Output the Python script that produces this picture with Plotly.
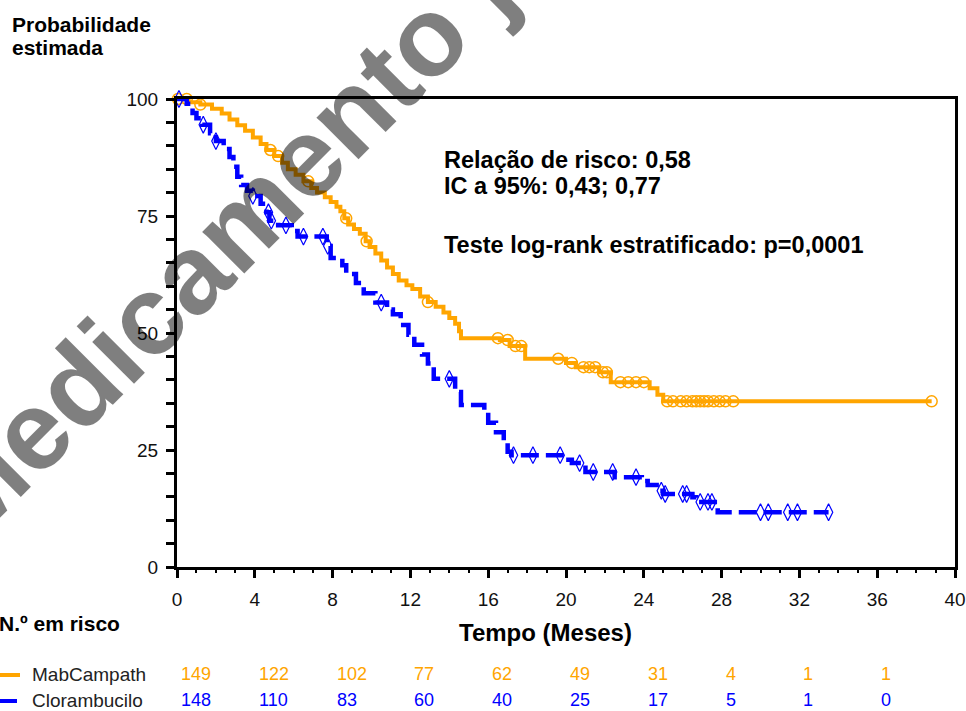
import plotly.graph_objects as go

# ---------------- data ----------------
mab_time = [0, 0.6, 1.2, 1.8, 2.3, 2.7, 3.1, 3.5, 3.9, 4.3, 4.6, 5.0, 5.4, 5.7, 6.1, 6.5, 6.9,
            7.2, 7.6, 7.9, 8.2, 8.4, 8.6, 8.8, 9.1, 9.4, 9.7, 9.9, 10.2, 10.5, 10.8, 11.1, 11.4,
            11.8, 12.1, 12.5, 12.9, 13.3, 13.7, 14.0, 14.3, 14.5, 14.6, 16.6, 17.1, 17.9, 20.0,
            20.5, 21.7, 22.3, 24.3, 24.7, 25.0, 38.8]
mab_surv = [100, 99.3, 98.8, 97.9, 96.9, 95.6, 94.4, 93.2, 91.8, 90.4, 89.1, 87.8, 86.4, 85.0,
            83.8, 82.4, 81.0, 80.0, 79.0, 78.0, 77.0, 76.0, 74.5, 73.2, 72.2, 71.2, 69.6, 68.4,
            67.0, 65.5, 64.0, 62.6, 61.2, 60.2, 59.4, 57.8, 56.6, 55.6, 54.4, 53.2, 52.0, 50.4,
            48.9, 48.5, 47.2, 44.5, 43.6, 42.7, 41.6, 39.5, 38.2, 36.8, 35.4, 35.4]

mab_cens_t = [0.05, 0.5, 1.2, 4.8, 5.2, 6.75, 8.7, 9.75, 12.9, 16.5, 17.0, 17.4, 17.7, 19.6,
              20.3, 20.9, 21.2, 21.5, 21.9, 22.1, 22.8, 23.2, 23.6, 24.0, 25.2, 25.5, 25.9,
              26.2, 26.5, 26.7, 26.9, 27.1, 27.3, 27.6, 27.9, 28.2, 28.6, 38.8]
mab_cens_s = [100, 100, 98.8, 89.1, 87.8, 82.4, 74.5, 69.6, 56.6, 48.9, 48.5, 47.2, 47.2, 44.5,
              43.6, 42.7, 42.7, 42.7, 41.6, 41.6, 39.5, 39.5, 39.5, 39.5, 35.4, 35.4, 35.4,
              35.4, 35.4, 35.4, 35.4, 35.4, 35.4, 35.4, 35.4, 35.4, 35.4, 35.4]

clb_time = [0, 0.5, 0.8, 1.0, 1.3, 1.7, 2.0, 2.4, 2.7, 2.9, 3.1, 3.3, 3.6, 3.9, 4.3, 4.6, 4.75,
            5.2, 5.9, 6.2, 7.7, 7.9, 8.5, 8.7, 9.2, 9.6, 10.2, 10.8, 11.1, 11.5, 11.9, 12.2,
            12.6, 12.9, 13.2, 14.3, 14.6, 15.8, 16.0, 16.4, 16.8, 17.0, 17.2, 19.9, 20.3, 21.0,
            22.5, 23.9, 24.2, 24.8, 25.0, 26.5, 26.7, 27.8, 33.5]
clb_surv = [100, 99.0, 97.0, 95.9, 94.5, 92.7, 91.0, 89.3, 87.6, 85.5, 83.4, 81.6, 80.4, 79.3,
            77.6, 75.8, 74.0, 73.0, 71.8, 70.6, 68.6, 66.0, 64.5, 62.6, 60.7, 58.5, 56.5, 55.0,
            54.0, 51.7, 49.6, 47.5, 45.4, 43.5, 40.2, 37.4, 34.6, 33.0, 30.8, 28.8, 26.8, 24.6,
            23.9, 22.9, 22.2, 20.3, 19.2, 18.4, 17.5, 16.3, 15.6, 14.9, 13.9, 11.7, 11.7]

clb_cens_t = [0.1, 1.35, 2.0, 3.9, 4.7, 4.85, 5.6, 6.5, 7.5, 7.75, 10.5, 14.0, 17.3, 18.3, 19.7,
              20.7, 21.4, 22.4, 23.6, 24.9, 25.1, 26.0, 26.2, 26.9, 27.3, 27.5, 30.0, 30.4,
              31.4, 31.9, 33.5]
clb_cens_s = [100, 94.5, 91.0, 79.3, 75.8, 74.0, 73.0, 70.6, 70.6, 68.6, 56.5, 40.2, 23.9, 23.9,
              23.9, 22.2, 20.3, 20.3, 19.2, 16.3, 15.6, 15.6, 15.6, 13.9, 13.9, 13.9, 11.7, 11.7,
              11.7, 11.7, 11.7]

risk_times = [0, 4, 8, 12, 16, 20, 24, 28, 32, 36]
mab_risk = [149, 122, 102, 77, 62, 49, 31, 4, 1, 1]
clb_risk = [148, 110, 83, 60, 40, 25, 17, 5, 1, 0]

x_ticks = [0, 4, 8, 12, 16, 20, 24, 28, 32, 36, 40]
y_ticks = [0, 25, 50, 75, 100]

ORANGE = "#FFA500"
BLUE = "#0000FF"
FONT = "Liberation Sans, Arial, sans-serif"

# ---------------- layout geometry ----------------
W, H = 966, 711
L, R, T, B = 177, 955, 99, 567


def px(x):
    return (x - L) / (R - L)


def py(y):
    return (B - y) / (B - T)


fig = go.Figure()

fig.add_trace(go.Scatter(x=mab_time, y=mab_surv, mode="lines", line_shape="hv",
                         line=dict(color=ORANGE, width=4), showlegend=False, cliponaxis=False))
fig.add_trace(go.Scatter(x=mab_cens_t, y=mab_cens_s, mode="markers",
                         marker=dict(symbol="circle-open", size=11, color=ORANGE,
                                     line=dict(width=1.5, color=ORANGE)),
                         showlegend=False, cliponaxis=False))
fig.add_trace(go.Scatter(x=clb_time, y=clb_surv, mode="lines", line_shape="hv",
                         line=dict(color=BLUE, width=4.5, dash="18px,7px"),
                         showlegend=False, cliponaxis=False))
fig.add_trace(go.Scatter(x=clb_cens_t, y=clb_cens_s, mode="markers",
                         marker=dict(symbol="diamond-tall-open", size=12, color=BLUE,
                                     line=dict(width=1.2, color=BLUE)),
                         showlegend=False, cliponaxis=False))

ann = []


def txt(text, x, y, size, bold=False, color="#000", xanchor="left", **kw):
    t = f"<b>{text}</b>" if bold else text
    ann.append(dict(text=t, x=px(x), y=py(y), xref="paper", yref="paper", showarrow=False,
                    xanchor=xanchor, yanchor="middle",
                    font=dict(family=FONT, size=size, color=color), **kw))


txt("Probabilidade", 10, 25, 21, bold=True)
txt("estimada", 10, 48, 21, bold=True)
txt("Relação de risco: 0,58", 442, 160, 23.5, bold=True)
txt("IC a 95%: 0,43; 0,77", 442, 186, 23.5, bold=True)
txt("Teste log-rank estratificado: p=0,0001", 442, 245, 23.5, bold=True)
txt("Tempo (Meses)", 545, 632, 24, bold=True, xanchor="center")
txt("N.º em risco", -3, 623, 21, bold=True)
txt("MabCampath", 30, 674, 19, color="#222")
txt("Clorambucilo", 30, 700, 19, color="#222")

for t, v in zip(risk_times, mab_risk):
    ann.append(dict(text=str(v), x=t, y=py(674), xref="x", yref="paper", showarrow=False,
                    xanchor="left", yanchor="middle", xshift=2,
                    font=dict(family=FONT, size=18, color=ORANGE)))
for t, v in zip(risk_times, clb_risk):
    ann.append(dict(text=str(v), x=t, y=py(700), xref="x", yref="paper", showarrow=False,
                    xanchor="left", yanchor="middle", xshift=2,
                    font=dict(family=FONT, size=18, color=BLUE)))

# watermark
ann.append(dict(text="<b>Medicamento já não autorizado</b>", x=px(533), y=py(-69),
                xref="paper", yref="paper", showarrow=False, xanchor="center",
                yanchor="middle", textangle=-45,
                font=dict(family=FONT, size=112, color="rgba(0,0,0,0.5)")))

shapes = [
    dict(type="line", xref="paper", yref="paper", x0=px(0), x1=px(20), y0=py(675), y1=py(675),
         line=dict(color=ORANGE, width=4)),
    dict(type="line", xref="paper", yref="paper", x0=px(0), x1=px(17), y0=py(701), y1=py(701),
         line=dict(color=BLUE, width=4)),
]

fig.update_layout(
    width=W, height=H,
    margin=dict(l=L, r=W - R, t=T, b=H - B, pad=0, autoexpand=False),
    paper_bgcolor="white", plot_bgcolor="white",
    annotations=ann, shapes=shapes,
    xaxis=dict(range=[0, 40], tickvals=x_ticks, ticks="outside", ticklen=8, tickwidth=3,
               tickcolor="black", showline=True, linewidth=3, linecolor="black", mirror=True,
               showgrid=False, zeroline=False, ticklabelstandoff=5, automargin=False,
               tickfont=dict(family=FONT, size=19, color="#111"),
               minor=dict(dtick=1, ticks="outside", ticklen=3, tickwidth=2, tickcolor="black")),
    yaxis=dict(range=[0, 100], tickvals=y_ticks, ticks="outside", ticklen=8, tickwidth=3,
               tickcolor="black", showline=True, linewidth=3, linecolor="black", mirror=True,
               showgrid=False, zeroline=False, ticklabelstandoff=4, automargin=False,
               tickfont=dict(family=FONT, size=19, color="#111"),
               minor=dict(dtick=5, ticks="outside", ticklen=8, tickwidth=3, tickcolor="black")),
)

fig.write_html("out.html", config={"displayModeBar": False},
               post_script="document.body.style.margin='0';document.body.style.overflow='hidden';")
